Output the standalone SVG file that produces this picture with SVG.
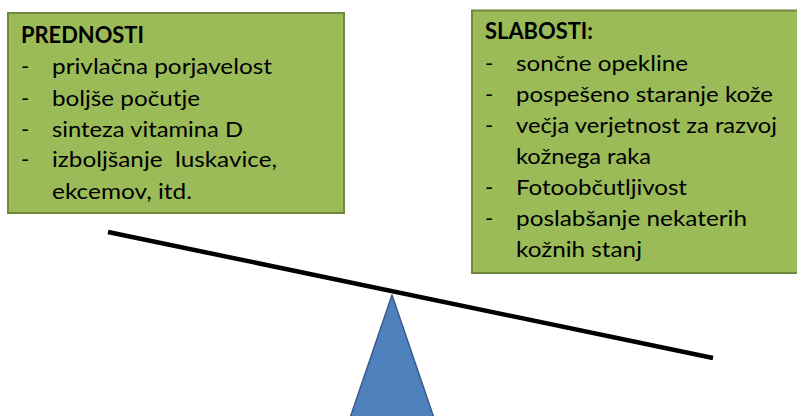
<svg xmlns="http://www.w3.org/2000/svg" width="797" height="416" viewBox="0 0 797 416">
<style>
.box{fill:#9BBB59;stroke:#71893F;stroke-width:2}
text{font-family:Lato,"Liberation Sans",sans-serif;font-size:22px;fill:#000}
.h{font-weight:bold}
</style>
<rect width="797" height="416" fill="#fff"/>
<g id="prednosti">
<rect class="box" x="8" y="13" width="336" height="200"/>
<text class="h" x="21" y="43" textLength="123" lengthAdjust="spacingAndGlyphs">PREDNOSTI</text>
<text x="21" y="74">-</text>
<text x="52" y="74" textLength="220" lengthAdjust="spacingAndGlyphs">privlačna porjavelost</text>
<text x="21" y="106">-</text>
<text x="52" y="106" textLength="148" lengthAdjust="spacingAndGlyphs">boljše počutje</text>
<text x="21" y="137">-</text>
<text x="52" y="137" textLength="191" lengthAdjust="spacingAndGlyphs">sinteza vitamina D</text>
<text x="21" y="167">-</text>
<text x="52" y="167" textLength="225" lengthAdjust="spacingAndGlyphs" xml:space="preserve">izboljšanje  luskavice,</text>
<text x="52" y="199" textLength="140" lengthAdjust="spacingAndGlyphs">ekcemov, itd.</text>
</g>
<g id="slabosti">
<rect class="box" x="472" y="10.5" width="340" height="262.5"/>
<text class="h" x="485" y="39" textLength="108" lengthAdjust="spacingAndGlyphs">SLABOSTI:</text>
<text x="485" y="71">-</text>
<text x="516" y="71" textLength="172" lengthAdjust="spacingAndGlyphs">sončne opekline</text>
<text x="485" y="102">-</text>
<text x="516" y="102" textLength="257" lengthAdjust="spacingAndGlyphs">pospešeno staranje kože</text>
<text x="485" y="133">-</text>
<text x="516" y="133" textLength="261" lengthAdjust="spacingAndGlyphs">večja verjetnost za razvoj</text>
<text x="516" y="164" textLength="135" lengthAdjust="spacingAndGlyphs">kožnega raka</text>
<text x="485" y="195">-</text>
<text x="516" y="195" textLength="171" lengthAdjust="spacingAndGlyphs">Fotoobčutljivost</text>
<text x="485" y="226">-</text>
<text x="516" y="226" textLength="231" lengthAdjust="spacingAndGlyphs">poslabšanje nekaterih</text>
<text x="516" y="257" textLength="126" lengthAdjust="spacingAndGlyphs">kožnih stanj</text>
</g>
<g id="beam">
<line x1="108" y1="232" x2="713" y2="358" stroke="#000" stroke-width="4.5" stroke-linecap="butt"/>
</g>
<g id="fulcrum">
<polygon points="392,295 350,418 434,418" fill="#4F81BD" stroke="#385D8A" stroke-width="1.5" stroke-linejoin="round"/>
</g>
</svg>
